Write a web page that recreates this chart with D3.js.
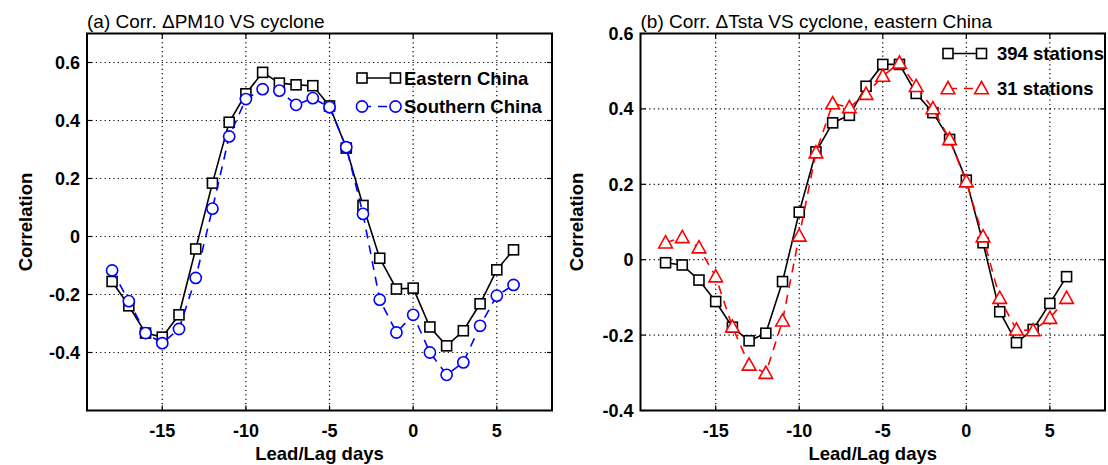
<!DOCTYPE html>
<html lang="en">
<head>
<meta charset="utf-8">
<title>Corr. lead/lag</title>
<script src="https://d3js.org/d3.v7.min.js"></script>
<style>
  body { margin: 0; background: #fff; }
  svg text { font-family: "Liberation Sans", Arial, Helvetica, sans-serif; fill: #000; }
  .tick-label { font-size: 18px; font-weight: bold; }
  .axis-title { font-size: 18.5px; font-weight: bold; }
  .panel-title { font-size: 19px; }
  .legend-text { font-size: 18.5px; font-weight: bold; }
</style>
</head>
<body>
<div id="chart"></div>
<script>
// lead/lag days (x)
const lags = [-18, -17, -16, -15, -14, -13, -12, -11, -10, -9, -8, -7, -6, -5, -4, -3, -2, -1, 0, 1, 2, 3, 4, 5, 6]

// (a) Corr. dPM10 VS cyclone
const easternChina = [-0.155, -0.239, -0.333, -0.347, -0.27, -0.043, 0.184, 0.394, 0.492, 0.566, 0.529, 0.523, 0.52, 0.45, 0.305, 0.107,
                      -0.075, -0.181, -0.178, -0.312, -0.377, -0.325, -0.232, -0.115, -0.046]
const southernChina = [-0.117, -0.223, -0.333, -0.368, -0.319, -0.143, 0.096, 0.345, 0.474, 0.508, 0.503, 0.454, 0.477, 0.446, 0.308, 0.078,
                       -0.218, -0.331, -0.27, -0.4, -0.477, -0.434, -0.308, -0.204, -0.167]

// (b) Corr. dTsta VS cyclone, eastern China
const stations394 = [-0.008, -0.014, -0.054, -0.111, -0.179, -0.215, -0.195, -0.058, 0.126, 0.286, 0.363, 0.383, 0.46, 0.518, 0.518, 0.441,
                     0.39, 0.319, 0.211, 0.045, -0.138, -0.22, -0.185, -0.116, -0.045]
const stations31 = [0.045, 0.059, 0.032, -0.045, -0.178, -0.279, -0.301, -0.162, 0.063, 0.284, 0.414, 0.404, 0.439, 0.487, 0.522, 0.46,
                    0.401, 0.319, 0.207, 0.061, -0.102, -0.186, -0.188, -0.155, -0.102]

const xTicks = [-15, -10, -5, 0, 5]
const yTicksA = [-0.4, -0.2, 0, 0.2, 0.4, 0.6]
const yTicksB = [-0.4, -0.2, 0, 0.2, 0.4, 0.6]

const width = 1108
const height = 465

const svg = d3.select("#chart").append("svg")
    .attr("width", width)
    .attr("height", height)

const panels = [
    {
        title: "(a) Corr. \u0394PM10 VS cyclone",
        left: 87, right: 552, top: 33.5, bottom: 410.5,
        yDomain: [-0.6, 0.7], yTicks: yTicksA,
        series: [
            {name: "Eastern China", values: easternChina, color: "#000", dash: null, marker: "square"},
            {name: "Southern China", values: southernChina, color: "#0000ff", dash: "9,7", marker: "circle"}
        ],
        legend: {x1: 362, x2: 395.5, textX: 404, y: [78, 106.5]},
        ylabelX: 32
    },
    {
        title: "(b) Corr. \u0394Tsta VS cyclone, eastern China",
        left: 640.5, right: 1105, top: 33.5, bottom: 410.5,
        yDomain: [-0.4, 0.6], yTicks: yTicksB,
        series: [
            {name: "394 stations", values: stations394, color: "#000", dash: null, marker: "square"},
            {name: "31 stations", values: stations31, color: "#ff0000", dash: "9,7", marker: "triangle"}
        ],
        legend: {x1: 948, x2: 981.5, textX: 997, y: [53.5, 88.5]},
        ylabelX: 583
    }
]

function drawMarker(g, type, cx, cy, color) {
    if (type === "square") {
        g.append("rect")
            .attr("x", cx - 5).attr("y", cy - 5)
            .attr("width", 10).attr("height", 10)
            .attr("fill", "#fff").attr("stroke", color).attr("stroke-width", 1.6)
    } else if (type === "circle") {
        g.append("circle")
            .attr("cx", cx).attr("cy", cy).attr("r", 5.6)
            .attr("fill", "#fff").attr("stroke", color).attr("stroke-width", 1.6)
    } else {
        g.append("path")
            .attr("d", "M" + cx + "," + (cy - 7) + "L" + (cx + 6.8) + "," + (cy + 5.2) + "L" + (cx - 6.8) + "," + (cy + 5.2) + "Z")
            .attr("fill", "#fff").attr("stroke", color).attr("stroke-width", 1.6)
    }
}

panels.forEach(function(p) {
    var x = d3.scaleLinear().domain([-19.5, 8.3]).range([p.left, p.right])
    var y = d3.scaleLinear().domain(p.yDomain).range([p.bottom, p.top])
    var g = svg.append("g")

    // dotted grid
    g.selectAll(".vgrid").data(xTicks).enter().append("line")
        .attr("x1", d => x(d)).attr("x2", d => x(d))
        .attr("y1", p.top).attr("y2", p.bottom)
        .attr("stroke", "#000").attr("stroke-width", 1.2)
        .attr("stroke-dasharray", "1.2,3.2")
    g.selectAll(".hgrid").data(p.yTicks.filter(d => y(d) > p.top + 1 && y(d) < p.bottom - 1)).enter().append("line")
        .attr("x1", p.left).attr("x2", p.right)
        .attr("y1", d => y(d)).attr("y2", d => y(d))
        .attr("stroke", "#000").attr("stroke-width", 1.2)
        .attr("stroke-dasharray", "1.2,3.2")

    // inner ticks on all sides
    xTicks.forEach(function(t) {
        g.append("line").attr("x1", x(t)).attr("x2", x(t)).attr("y1", p.bottom).attr("y2", p.bottom - 5)
            .attr("stroke", "#000").attr("stroke-width", 1.2)
        g.append("line").attr("x1", x(t)).attr("x2", x(t)).attr("y1", p.top).attr("y2", p.top + 5)
            .attr("stroke", "#000").attr("stroke-width", 1.2)
    })
    p.yTicks.forEach(function(t) {
        g.append("line").attr("x1", p.left).attr("x2", p.left + 5).attr("y1", y(t)).attr("y2", y(t))
            .attr("stroke", "#000").attr("stroke-width", 1.2)
        g.append("line").attr("x1", p.right).attr("x2", p.right - 5).attr("y1", y(t)).attr("y2", y(t))
            .attr("stroke", "#000").attr("stroke-width", 1.2)
    })

    // series
    p.series.forEach(function(s) {
        var pts = lags.map((d, i) => [d, s.values[i]])
        var line = d3.line().x(d => x(d[0])).y(d => y(d[1]))
        g.append("path")
            .datum(pts)
            .attr("d", line)
            .attr("fill", "none")
            .attr("stroke", s.color)
            .attr("stroke-width", 1.6)
            .attr("stroke-dasharray", s.dash)
        pts.forEach(d => drawMarker(g, s.marker, x(d[0]), y(d[1]), s.color))
    })

    // box
    g.append("rect")
        .attr("x", p.left).attr("y", p.top)
        .attr("width", p.right - p.left).attr("height", p.bottom - p.top)
        .attr("fill", "none").attr("stroke", "#000").attr("stroke-width", 2)

    // tick labels
    g.selectAll(".xl").data(xTicks).enter().append("text")
        .attr("class", "tick-label")
        .attr("x", d => x(d)).attr("y", p.bottom + 26)
        .attr("text-anchor", "middle")
        .text(d => d)
    g.selectAll(".yl").data(p.yTicks).enter().append("text")
        .attr("class", "tick-label")
        .attr("x", p.left - 7).attr("y", d => y(d) + 6.5)
        .attr("text-anchor", "end")
        .text(d => d)

    // axis titles
    g.append("text")
        .attr("class", "axis-title")
        .attr("x", (p.left + p.right) / 2).attr("y", p.bottom + 49)
        .attr("text-anchor", "middle")
        .text("Lead/Lag days")
    g.append("text")
        .attr("class", "axis-title")
        .attr("transform", "translate(" + p.ylabelX + "," + ((p.top + p.bottom) / 2) + ") rotate(-90)")
        .attr("text-anchor", "middle")
        .text("Correlation")

    // panel title
    g.append("text")
        .attr("class", "panel-title")
        .attr("x", p.left).attr("y", p.top - 6)
        .text(p.title)

    // legend
    p.series.forEach(function(s, i) {
        var ly = p.legend.y[i]
        g.append("line")
            .attr("x1", p.legend.x1).attr("x2", p.legend.x2)
            .attr("y1", ly).attr("y2", ly)
            .attr("stroke", s.color).attr("stroke-width", 1.6)
            .attr("stroke-dasharray", s.dash)
        drawMarker(g, s.marker, p.legend.x1, ly, s.color)
        drawMarker(g, s.marker, p.legend.x2, ly, s.color)
        g.append("text")
            .attr("class", "legend-text")
            .attr("x", p.legend.textX).attr("y", ly + 6.5)
            .text(s.name)
    })
})
</script>
</body>
</html>
